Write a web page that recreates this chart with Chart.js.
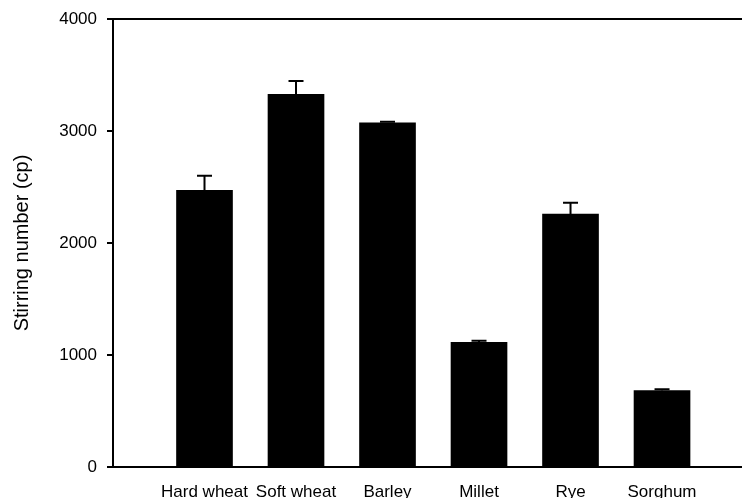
<!DOCTYPE html>
<html>
<head>
<meta charset="utf-8">
<script src="https://cdn.jsdelivr.net/npm/chart.js@4/dist/chart.umd.min.js"></script>
<style>
  html, body { margin: 0; padding: 0; background: #fff; }
  #wrap { width: 742px; height: 498px; }
</style>
</head>
<body>
<div id="wrap"><canvas id="chart"></canvas></div>
<script>
// Data
const cereals = ['Hard wheat', 'Soft wheat', 'Barley', 'Millet', 'Rye', 'Sorghum'];
const stirring = [2470, 3328, 3074, 1113, 2259, 683];
const stirringErr = [130, 118, 8, 15, 101, 12];
const yTicks = [0, 1000, 2000, 3000, 4000];

// simple error bar plugin (only the upper whisker is visible)
const errorBars = {
    id: 'errorBars',
    afterDatasetsDraw(chart) {
        const ctx = chart.ctx;
        const meta = chart.getDatasetMeta(0);
        const yScale = chart.scales.y;
        ctx.save();
        ctx.strokeStyle = '#000';
        ctx.lineWidth = 2;
        meta.data.forEach((bar, i) => {
            const top = yScale.getPixelForValue(stirring[i] + stirringErr[i]);
            ctx.beginPath();
            ctx.moveTo(bar.x, bar.y);
            ctx.lineTo(bar.x, top);
            ctx.moveTo(bar.x - 7.5, top);
            ctx.lineTo(bar.x + 7.5, top);
            ctx.stroke();
        });
        ctx.restore();
    }
};

new Chart(document.getElementById('chart'), {
    type: 'bar',
    data: {
        datasets: [{
            data: stirring.map((v, i) => ({ x: i + 1, y: v })),
            backgroundColor: '#000',
            borderWidth: 0,
            barThickness: 56
        }]
    },
    options: {
        responsive: true,
        maintainAspectRatio: false,
        animation: false,
        layout: { padding: { top: 19, right: 0, left: 0, bottom: 0 } },
        plugins: {
            legend: { display: false },
            tooltip: { enabled: false }
        },
        scales: {
            x: {
                type: 'linear',
                min: 0,
                max: 6.874,
                offset: false,
                border: { display: true, color: '#000', width: 2 },
                grid: { display: false, drawTicks: false },
                ticks: {
                    stepSize: 1,
                    autoSkip: false,
                    maxRotation: 0,
                    padding: 15,
                    color: '#000',
                    font: { family: 'Liberation Sans, Arial, sans-serif', size: 17 },
                    callback: (v) => (Number.isInteger(v) && v >= 1 && v <= cereals.length) ? cereals[v - 1] : ''
                },
                afterFit(scale) {
                    scale.height = 31;
                    scale.paddingLeft = 0;
                    scale.paddingRight = 0;
                }
            },
            y: {
                min: yTicks[0],
                max: yTicks[yTicks.length - 1],
                border: { display: true, color: '#000', width: 2 },
                grid: {
                    drawOnChartArea: true,
                    color: (c) => c.tick && c.tick.value === 4000 ? '#000' : 'rgba(0,0,0,0)',
                    lineWidth: 2,
                    tickColor: '#000',
                    tickLength: 6
                },
                afterBuildTicks(scale) {
                    scale.ticks = yTicks.map(v => ({ value: v }));
                },
                ticks: {
                    padding: 10,
                    color: '#000',
                    font: { family: 'Liberation Sans, Arial, sans-serif', size: 17 },
                    callback: (v) => String(v)
                },
                title: {
                    display: true,
                    text: 'Stirring number (cp)',
                    color: '#000',
                    padding: { top: 10, bottom: 0 },
                    font: { family: 'Liberation Sans, Arial, sans-serif', size: 20 }
                },
                afterFit(scale) {
                    scale.width = 113;
                    scale.paddingTop = 0;
                    scale.paddingBottom = 0;
                }
            }
        }
    },
    plugins: [errorBars]
});
</script>
</body>
</html>
